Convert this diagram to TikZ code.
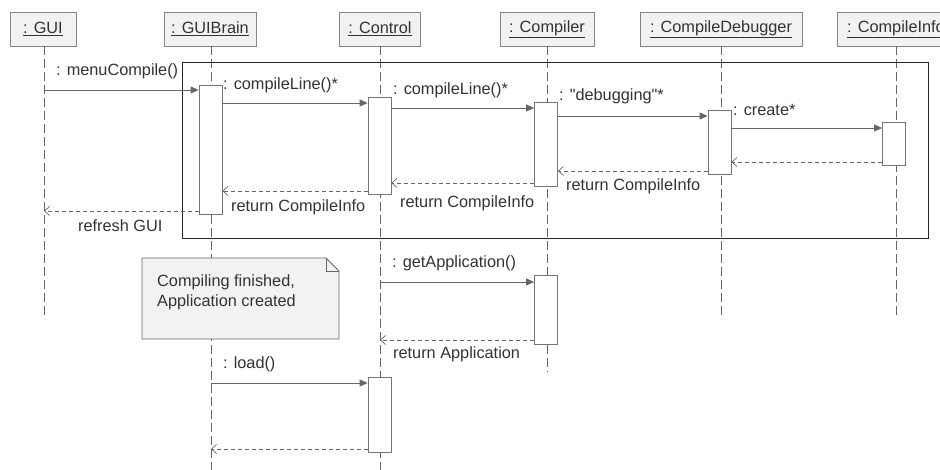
\documentclass[tikz,border=0pt]{standalone}
\usepackage{fontspec}
\setmainfont{Liberation Sans}
\usetikzlibrary{arrows.meta}
\definecolor{txt}{HTML}{333333}
\definecolor{ln}{HTML}{666666}
\definecolor{hdr}{HTML}{F2F2F2}
\begin{document}
\begin{tikzpicture}[x=1pt,y=-1pt,
  every node/.style={font=\fontsize{16.3}{19}\selectfont, text=txt},
  head/.style={draw=ln!80, fill=hdr, minimum height=34pt, inner sep=0pt},
  lifeline/.style={draw=ln, dash pattern=on 9pt off 4pt, line width=0.8pt},
  act/.style={draw=ln!90, fill=white, minimum width=23pt, inner sep=0pt, line width=0.8pt},
  msg/.style={draw=ln, line width=0.8pt, -{Triangle[length=8pt,width=7pt]}},
  ret/.style={draw=ln, line width=0.7pt, dash pattern=on 4pt off 3pt, -{Straight Barb[length=5pt,width=9pt]}},
  lbl/.style={anchor=west, inner sep=0pt},
  notebox/.style={draw=ln, fill=hdr, line width=0.8pt}]
\useasboundingbox (0,0) rectangle (940,470);
\clip (0,0) rectangle (940,470);
% headers
\node[head, minimum width=66pt]  (gui) at (43,29)  {\underline{: GUI}};
\node[head, minimum width=92pt]  (gb)  at (210,29) {\underline{: GUIBrain}};
\node[head, minimum width=81pt]  (ctl) at (380,29) {\underline{: Control}};
\node[head, minimum width=94pt]  (cmp) at (547,29) {\underline{: Compiler}};
\node[head, minimum width=162pt] (cd)  at (721,29) {\underline{: CompileDebugger}};
\node[head, minimum width=118pt] (ci)  at (896,29) {\underline{: CompileInfo}};
% lifeline ends
\coordinate (guiE) at (44,318);
\coordinate (gbE)  at (211,470);
\coordinate (ctlE) at (380,470);
\coordinate (cmpE) at (547,372);
\coordinate (cdE)  at (721,318);
\coordinate (ciE)  at (896,318);
\draw[lifeline] (gui.south -| guiE) -- (guiE);
\draw[lifeline] (gb.south -| gbE) -- (gbE);
\draw[lifeline] (ctl.south -| ctlE) -- (ctlE);
\draw[lifeline] (cmp.south -| cmpE) -- (cmpE);
\draw[lifeline] (cd.south -| cdE) -- (cdE);
\draw[lifeline] (ci.south -| ciE) -- (ciE);
% frame
\node[draw=black!85, line width=1pt, minimum width=746pt, minimum height=176pt, inner sep=0pt, anchor=north west] (frame) at (182,62) {};
% activations
\node[act, minimum height=129pt] (gb1) at (210.5,149.5) {};
\node[act, minimum height=97pt]  (c1)  at (379.5,145.5) {};
\node[act, minimum height=84pt]  (cp1) at (546,144) {};
\node[act, minimum height=64pt]  (cd1) at (719.5,142) {};
\node[act, minimum height=43pt]  (ci1) at (894,143.5) {};
\node[act, minimum height=69pt]  (cp2) at (546,309.5) {};
\node[act, minimum height=75pt]  (c3)  at (379.5,414.5) {};
% messages
\draw[msg] (guiE |- 0,90) -- (gb1.west |- 0,90);
\node[lbl] (l1) at (56,71) {: menuCompile()};
\draw[msg] (gb1.east |- 0,103) -- (c1.west |- 0,103);
\node[lbl] (l2) at (223,85) {: compileLine()*};
\draw[msg] (c1.east |- 0,108) -- (cp1.west |- 0,108);
\node[lbl] (l3) at (393,90) {: compileLine()*};
\draw[msg] (cp1.east |- 0,116) -- (cd1.west |- 0,116);
\node[lbl] (l4) at (559,96) {: \textquotedbl debugging\textquotedbl*};
\draw[msg] (cd1.east |- 0,128) -- (ci1.west |- 0,128);
\node[lbl] (l5) at (733,110) {: create*};
\draw[ret] (ci1.west |- 0,162) -- (cd1.east |- 0,162);
\draw[ret] (cd1.west |- 0,171) -- (cp1.east |- 0,171);
\node[lbl] (l6) at (566,186) {return CompileInfo};
\draw[ret] (cp1.west |- 0,183) -- (c1.east |- 0,183);
\node[lbl] (l7) at (400,203) {return CompileInfo};
\draw[ret] (c1.west |- 0,191) -- (gb1.east |- 0,191);
\node[lbl] (l8) at (231,207) {return CompileInfo};
\draw[ret] (gb1.west |- 0,211) -- (guiE |- 0,211);
\node[lbl] (l9) at (78,226) {refresh GUI};
% note
\draw[notebox] (142,258) -- (326,258) -- (339,271) -- (339,339) -- (142,339) -- cycle;
\draw[ln, line width=0.8pt] (326,258) -- (326,271) -- (339,271);
\node[lbl, align=left] (note) at (157,292) {Compiling finished,\\[1pt]Application created};
% second part
\draw[msg] (ctlE |- 0,282) -- (cp2.west |- 0,282);
\node[lbl] (l10) at (392,263) {: getApplication()};
\draw[ret] (cp2.west |- 0,340) -- (ctlE |- 0,340);
\node[lbl] (l11) at (393,354) {return Application};
\draw[msg] (gbE |- 0,383) -- (c3.west |- 0,383);
\node[lbl] (l12) at (223,364) {: load()};
\draw[ret] (c3.west |- 0,449) -- (gbE |- 0,449);
\end{tikzpicture}
\end{document}
